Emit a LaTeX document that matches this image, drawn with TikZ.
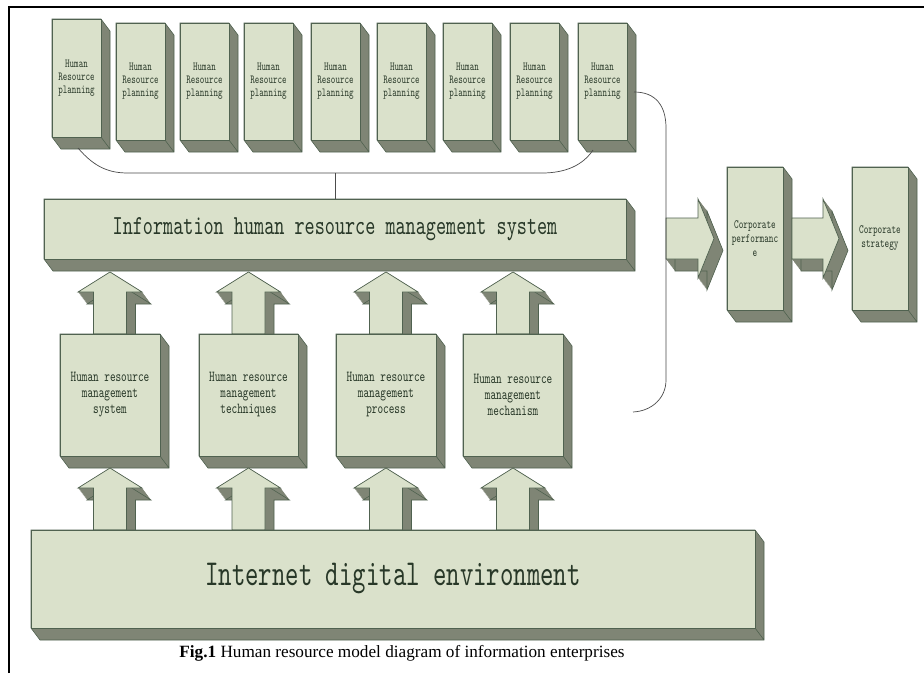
\documentclass[tikz,border=0pt]{standalone}
\usepackage{fontspec}
\setmainfont{Liberation Serif}
\newfontfamily\hfont{lmmono10-regular.otf}[FakeStretch=0.7]
\usetikzlibrary{calc}
\definecolor{facec}{RGB}{218,225,203}
\definecolor{sidec}{RGB}{127,133,117}
\definecolor{edgec}{RGB}{80,98,80}
\definecolor{textc}{RGB}{40,56,40}
\tikzset{
  face/.style={draw=edgec, fill=facec, line width=0.7pt, inner sep=0pt, outer sep=0pt, text=textc, align=center},
  facefill/.style={draw=edgec, fill=facec, line width=0.7pt},
  side/.style={fill=sidec},
  sideedge/.style={draw=edgec, line width=0.6pt},
  conn/.style={draw=black!70, line width=0.7pt},
  frameline/.style={line width=2.2pt, black},
  toptxt/.style={font=\hfont\fontsize{12.3}{13}\selectfont},
  corptxt/.style={font=\hfont\fontsize{12.6}{14}\selectfont},
  midtxt/.style={font=\hfont\fontsize{15.3}{16}\selectfont},
  maintxt/.style={font=\hfont\fontsize{27.5}{30}\selectfont},
  nettxt/.style={font=\hfont\fontsize{36.5}{40}\selectfont},
}
% 3D box: name, x1, y1, x2, y2, style, text
\newcommand\tdbox[7]{%
  \fill[side] (#2,#3) -- (#4,#3) -- (#4+9,#3+12) -- (#4+9,#5+12) -- (#2+9,#5+12) -- (#2,#5) -- cycle;
  \draw[sideedge] (#2,#3) -- (#4,#3) -- (#4+9,#3+12) -- (#4+9,#5+12) -- (#2+9,#5+12) -- (#2,#5) -- cycle
     (#4,#5) -- (#4+9,#5+12);
  \node[face, #6, anchor=north west, minimum width={(#4-#2)*1pt}, minimum height={(#5-#3)*1pt}] (#1) at (#2,#3) {#7};
}
% extruded polygon
\newcommand\extpoly[1]{%
  \foreach \i in {0,...,40} {\fill[sidec, shift={(9*\i/40,12*\i/40)}] #1 -- cycle;}
  \draw[sideedge, shift={(9,12)}] #1 -- cycle;
  \filldraw[facefill] #1 -- cycle;
}
% up arrow: centre x, tip y, head base y, shaft bottom y
\newcommand\uparr[4]{%
  \extpoly{(#1,#2) -- (#1+32,#3) -- (#1+16.5,#3) -- (#1+16.5,#4) -- (#1-16.5,#4) -- (#1-16.5,#3) -- (#1-32,#3)}%
}
% right arrow: shaft left x, head base x, tip x
\newcommand\rarr[3]{%
  \extpoly{(#1,218) -- (#2,218) -- (#2,199) -- (#3,238.5) -- (#2,278) -- (#2,259) -- (#1,259)}%
}
\begin{document}
\begin{tikzpicture}[x=1pt,y=-1pt]
\useasboundingbox (0,0) rectangle (924,673);
\fill[white] (0,0) rectangle (924,673);
\draw[frameline] (9,673) -- (9,7) -- (924,7);

% top planning boxes
\tdbox{p1}{52}{19}{101}{137}{toptxt}{Human\\Resource\\planning}
\tdbox{p2}{116}{23}{165}{140}{toptxt}{Human\\Resource\\planning}
\tdbox{p3}{180}{23}{229}{140}{toptxt}{Human\\Resource\\planning}
\tdbox{p4}{244}{23}{293}{140}{toptxt}{Human\\Resource\\planning}
\tdbox{p5}{311}{23}{360}{140}{toptxt}{Human\\Resource\\planning}
\tdbox{p6}{377}{23}{426}{140}{toptxt}{Human\\Resource\\planning}
\tdbox{p7}{443}{23}{492}{140}{toptxt}{Human\\Resource\\planning}
\tdbox{p8}{510}{23}{559}{140}{toptxt}{Human\\Resource\\planning}
\tdbox{p9}{578}{23}{627}{140}{toptxt}{Human\\Resource\\planning}

% main system box
\tdbox{main}{44}{199}{626}{259}{maintxt}{Information human resource management system}

% upper arrows
\uparr{110}{272}{292}{334}
\uparr{248.5}{272}{292}{334}
\uparr{386}{272}{292}{334}
\uparr{513}{272}{292}{334}

% middle boxes
\tdbox{m1}{60}{334}{160}{456}{midtxt}{Human resource\\management\\system}
\tdbox{m2}{199}{334}{298}{456}{midtxt}{Human resource\\management\\techniques}
\tdbox{m3}{336}{334}{436}{456}{midtxt}{Human resource\\management\\process}
\tdbox{m4}{463}{334}{563}{456}{midtxt}{Human resource\\management\\mechanism}

% lower arrows
\uparr{110}{468}{488}{530}
\uparr{248.5}{468}{488}{530}
\uparr{386}{468}{488}{530}
\uparr{513}{468}{488}{530}

% internet box
\tdbox{net}{31}{530}{755}{628}{nettxt}{Internet digital environment}

% corporate boxes
\tdbox{perf}{727}{167}{783}{310}{corptxt}{Corporate\\performanc\\e}
\tdbox{strat}{852}{167}{908}{310}{corptxt}{Corporate\\strategy}

% right arrows
\rarr{666}{698}{714}
\rarr{792}{823}{839}

% connectors
\coordinate (a1) at ($(p1.south)+(1.5,11)$);
\coordinate (a9) at ($(p9.south)+(-9.5,10)$);
\coordinate (hl) at (128,173);
\coordinate (hr) at (542,173);
\draw[conn] (a1) .. controls (95,168) and (110,173) .. (hl) -- (hr)
  .. controls (566,173) and (583,165) .. (a9);
\draw[conn] (main.north |- hl) -- (main.north);
\coordinate (b0) at ($(p9.east)+(7,10.5)$);
\coordinate (bend) at (633,412);
\draw[conn] (b0) .. controls (656,92) and (666,106) .. (666,128) -- (666,380)
  .. controls (666,398) and (652,411) .. (bend);

% caption
\node[font=\fontsize{17.2}{20}\selectfont, anchor=base] (cap) at (402,657)
  {\textbf{Fig.1} Human resource model diagram of information enterprises};
\end{tikzpicture}
\end{document}
